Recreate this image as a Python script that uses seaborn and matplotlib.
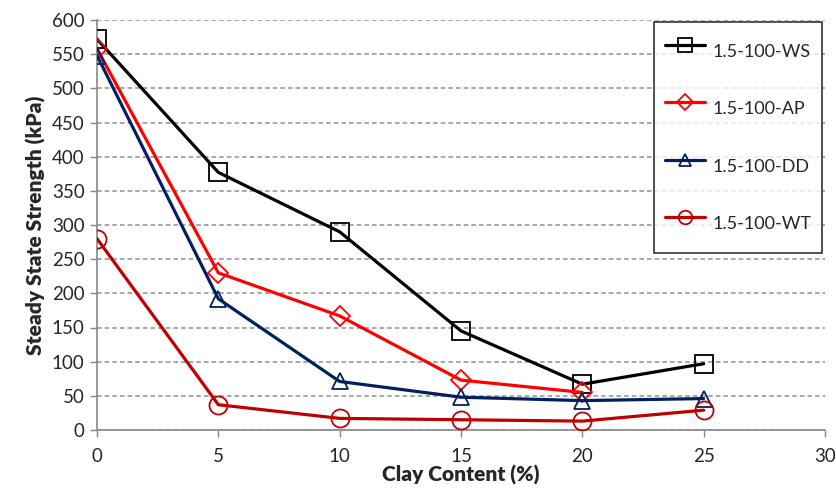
import numpy as np
import pandas as pd
import matplotlib
matplotlib.use('Agg')
import matplotlib.pyplot as plt
import seaborn as sns

# -----------------------

clay = [0, 5, 10, 15, 20, 25]

ws = [572, 377, 290, 145, 67, 97]
ap = [558, 230, 167, 73, 55, np.nan]
dd = [548, 192, 71, 48, 43, 46]
wt = [280, 37, 17, 15, 13, 29]

names = ['1.5-100-WS', '1.5-100-AP', '1.5-100-DD', '1.5-100-WT']
colors = ['#000000', '#FF0000', '#002060', '#C00000']
marks = ['s', 'D', '^', 'o']
msizes = [13, 10.5, 12, 13]

# -----------------------

dfs = []
for name, vals in zip(names, [ws, ap, dd, wt]):
	dfs.append(pd.DataFrame({'clay': clay, 'strength': vals, 'test': name}))
df = pd.concat(dfs).dropna()

sns.set_style('white')
plt.rcParams['font.family'] = ['Lato', 'DejaVu Sans']

fig = plt.figure(figsize=(8.37, 4.93), dpi=100)
ax = fig.add_axes([97/837, 63/493, 728/837, 410/493])

sns.lineplot(data=df, x='clay', y='strength', hue='test', style='test',
	palette=colors, markers=marks, dashes=False, lw=2.3, legend=False,
	ax=ax, zorder=3)

for line, ms, c in zip(ax.lines, msizes, colors):
	line.set_markerfacecolor('none')
	line.set_markeredgecolor(c)
	line.set_markersize(ms)
	line.set_markeredgewidth(1.3)

ax.set_xlim(0, 30)
ax.set_ylim(0, 600)
ax.set_xticks(range(0, 31, 5))
ax.set_yticks(range(0, 601, 50))
ax.tick_params(axis='both', labelsize=13.5, direction='out', length=5,
	color='#888888', width=1, left=True, bottom=True, pad=4)
ax.tick_params(axis='x', pad=8)

ax.grid(axis='y', ls='--', color='#909090', lw=1.1, dashes=(3, 2))
ax.grid(axis='x', visible=False)
for s in ['top', 'right']:
	ax.spines[s].set_visible(False)
for s in ['left', 'bottom']:
	ax.spines[s].set_color('#888888')
	ax.spines[s].set_linewidth(1.2)

ax.set_xlabel('Clay Content (%)', fontsize=15, fontweight='heavy', labelpad=0)
ax.set_ylabel('Steady State Strength (kPa)', fontsize=15, fontweight='heavy', labelpad=4)

leg = ax.legend(handles=ax.lines[:4], labels=names, loc='upper right',
	bbox_to_anchor=(0.996, 0.995), borderaxespad=0, frameon=True, fancybox=False,
	fontsize=13, labelspacing=1.15, handleheight=2.75, handlelength=2.2,
	handletextpad=0.4, borderpad=0.6, markerscale=0.75)
leg.get_frame().set_edgecolor('black')
leg.get_frame().set_linewidth(1.2)

plt.savefig('out.png', dpi=100)
